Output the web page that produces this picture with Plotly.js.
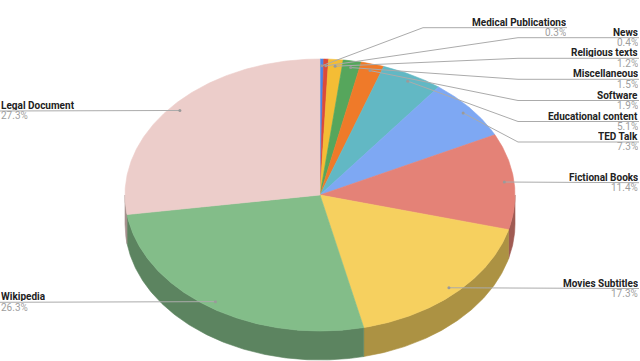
<!DOCTYPE html>
<html>
<head>
<meta charset="utf-8">
<script src="https://cdn.plot.ly/plotly-3.0.1.min.js"></script>
<style>html,body{margin:0;padding:0;background:#fff;}#chart{width:640px;height:361px;}</style>
</head>
<body>
<div id="chart"></div>
<script>
// ---- data ----
const categories = ["Medical Publications","News","Religious texts","Miscellaneous","Software",
  "Educational content","TED Talk","Fictional Books","Movies Subtitles","Wikipedia","Legal Document"];
const shares = [0.3,0.4,1.2,1.5,1.9,5.1,7.3,11.4,17.3,26.3,27.3];
const pctLabels = ["0.3%","0.4%","1.2%","1.5%","1.9%","5.1%","7.3%","11.4%","17.3%","26.3%","27.3%"];
const sliceColors = ["#4a86e8","#dc4b3a","#f4bd35","#56a65c","#ef7a29","#62b8c4",
  "#7ea8f3","#e48277","#f6d05f","#83bd89","#eccdca"];

// ---- layout constants (pixels) ----
const CX = 320, CY = 195, RX = 195, RY = 136, DEPTH = 29, ANCHOR_R = 0.95;
// label placement per category: edge x, side, leader line y, elbow x
const labelEdge = [567,639,639,639,639,639,639,639,639,0,0];
const labelSide = ["r","r","r","r","r","r","r","r","r","l","l"];
const lineY =     [27.7,37.7,58.3,79.3,100.5,121.5,142,182.7,288.5,302.3,111];
const elbowX =    [423,518,518,518,518,518,518,null,null,null,null];

function darker(hex, f){
  const n = parseInt(hex.slice(1),16);
  const r = Math.round(((n>>16)&255)*f), g = Math.round(((n>>8)&255)*f), b = Math.round((n&255)*f);
  return "rgb("+r+","+g+","+b+")";
}
function pt(deg, r, dy){
  const t = deg*Math.PI/180;
  return [CX + r*RX*Math.sin(t), CY - r*RY*Math.cos(t) + (dy||0)];
}

const total = shares.reduce((a,b)=>a+b,0);
const sideTraces = [], topTraces = [], lineTraces = [];
const annotations = [];
let cum = 0;
const anchorsX = [], anchorsY = [];

shares.forEach((v,i)=>{
  const a0 = cum/total*360, a1 = (cum+v)/total*360;
  cum += v;
  // top face
  const xs = [CX], ys = [CY];
  const steps = Math.max(2, Math.ceil((a1-a0)/0.5));
  for(let k=0;k<=steps;k++){ const p = pt(a0+(a1-a0)*k/steps,1); xs.push(p[0]); ys.push(p[1]); }
  xs.push(CX); ys.push(CY);
  topTraces.push({type:"scatter",mode:"lines",x:xs,y:ys,fill:"toself",fillcolor:sliceColors[i],
    line:{color:sliceColors[i],width:0.6},hoverinfo:"skip",showlegend:false});
  // side face (front half only: 90..270 deg)
  const s0 = Math.max(a0,90), s1 = Math.min(a1,270);
  if(s1 > s0){
    const sx=[], sy=[];
    const st = Math.max(2, Math.ceil((s1-s0)/0.5));
    for(let k=0;k<=st;k++){ const p = pt(s0+(s1-s0)*k/st,1); sx.push(p[0]); sy.push(p[1]); }
    for(let k=st;k>=0;k--){ const p = pt(s0+(s1-s0)*k/st,1,DEPTH); sx.push(p[0]); sy.push(p[1]); }
    sx.push(sx[0]); sy.push(sy[0]);
    const sc = darker(sliceColors[i],0.7);
    sideTraces.push({type:"scatter",mode:"lines",x:sx,y:sy,fill:"toself",fillcolor:sc,
      line:{color:sc,width:0.6},hoverinfo:"skip",showlegend:false});
  }
  // leader line
  const mid = (a0+a1)/2;
  const an = pt(mid, ANCHOR_R);
  anchorsX.push(an[0]); anchorsY.push(an[1]);
  const lx = [an[0]], ly = [an[1]];
  if(elbowX[i] !== null){ lx.push(elbowX[i]); ly.push(lineY[i]); }
  lx.push(labelEdge[i]); ly.push(lineY[i]);
  lineTraces.push({type:"scatter",mode:"lines",x:lx,y:ly,line:{color:"#ababab",width:1},
    hoverinfo:"skip",showlegend:false});
  const xa = labelSide[i]==="r" ? "right" : "left";
  annotations.push({x:labelEdge[i],y:lineY[i]-5.4,xref:"x",yref:"y",xanchor:xa,yanchor:"middle",
    height:9,borderpad:0,valign:"middle",
    text:"<b>"+categories[i]+"</b>",showarrow:false,font:{family:"Roboto, Arial, sans-serif",size:10,color:"#222222"}});
  annotations.push({x:labelEdge[i],y:lineY[i]+4.9,xref:"x",yref:"y",xanchor:xa,yanchor:"middle",
    height:9,borderpad:0,valign:"middle",
    text:pctLabels[i],showarrow:false,font:{family:"Roboto, Arial, sans-serif",size:10,color:"#9e9e9e"}});
});

const dots = {type:"scatter",mode:"markers",x:anchorsX,y:anchorsY,
  marker:{size:3,color:"#9a9a9a"},hoverinfo:"skip",showlegend:false};

const data = [...sideTraces, ...topTraces, ...lineTraces, dots];
const layout = {
  width:640,height:361,margin:{l:0,r:0,t:0,b:0},
  paper_bgcolor:"#ffffff",plot_bgcolor:"#ffffff",showlegend:false,
  xaxis:{range:[0,640],visible:false,fixedrange:true},
  yaxis:{range:[361,0],visible:false,fixedrange:true},
  annotations:annotations
};
Plotly.newPlot("chart",data,layout,{displayModeBar:false,staticPlot:true});
</script>
</body>
</html>
